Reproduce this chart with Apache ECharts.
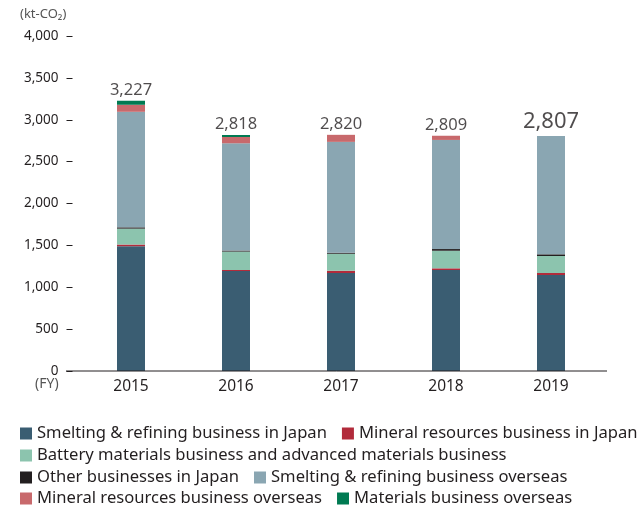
<!DOCTYPE html>
<html><head><meta charset="utf-8">
<script src="https://cdn.jsdelivr.net/npm/echarts@6/dist/echarts.min.js"></script>
<style>html,body{margin:0;padding:0;background:#fff}#c{width:640px;height:509px}</style>
</head><body><div id="c"></div>
<script>
const years = ['2015','2016','2017','2018','2019'];
const totals = [3227, 2818, 2820, 2809, 2807];
const seriesNames = [
  'Smelting & refining business in Japan',
  'Mineral resources business in Japan',
  'Battery materials business and advanced materials business',
  'Other businesses in Japan',
  'Smelting & refining business overseas',
  'Mineral resources business overseas',
  'Materials business overseas'
];
const smeltingJapan   = [1490, 1194, 1170, 1206, 1146];
const mineralJapan    = [20, 12, 27, 20, 24];
const battery         = [190, 220, 203, 210, 203];
const otherJapan      = [15, 12, 12, 20, 20];
const smeltingOverseas= [1380, 1281, 1324, 1303, 1414];
const mineralOverseas = [84, 75, 84, 50, 0];
const materialsOverseas=[48, 24, 0, 0, 0];
const yTicks = [0, 500, 1000, 1500, 2000, 2500, 3000, 3500, 4000];

const seriesData = [smeltingJapan, mineralJapan, battery, otherJapan, smeltingOverseas, mineralOverseas, materialsOverseas];
const colors = ['#3a5d72', '#b22b3b', '#8cc4ae', '#231f20', '#8aa6b2', '#c8696c', '#007a52'];
const FONT = 'Noto Sans';

const chart = echarts.init(document.getElementById('c'), null, {renderer: 'canvas'});
const series = seriesData.map((d, i) => ({
  name: seriesNames[i], type: 'bar', stack: 'total', data: d,
  barWidth: 28, itemStyle: {color: colors[i]}
}));
series.push({
  name: 'Total', type: 'scatter', symbolSize: 0, silent: true,
  data: totals.map((v, i) => i === 4
    ? {value: v, label: {fontSize: 22, distance: 3}}
    : {value: v}),
  label: {
    show: true, position: 'top', distance: 2, color: '#231f20', fontFamily: FONT,
    formatter: p => p.value.toLocaleString('en-US'),
    fontSize: 16.5
  }
});

const legendCommon = {
  icon: 'rect', itemWidth: 12, itemHeight: 12, itemGap: 15, width: 1200,
  orient: 'horizontal',
  textStyle: {fontFamily: FONT, fontSize: 16.6, color: '#231f20'},
  selectedMode: false, padding: 0
};
chart.setOption({
  animation: false,
  color: colors,
  grid: {left: 78.5, right: 36.5, top: 36, bottom: 138},
  xAxis: {
    type: 'category', data: years,
    axisLine: {show: false}, axisTick: {show: false},
    axisLabel: {color: '#231f20', fontFamily: FONT, fontSize: 15.5, margin: 8}
  },
  yAxis: {
    type: 'value', min: 0, max: 4000, interval: 500, offset: 6,
    splitLine: {show: false},
    axisLine: {show: false},
    axisTick: {show: true, length: 6, lineStyle: {color: '#231f20'}},
    axisLabel: {color: '#231f20', fontFamily: FONT, fontSize: 13.5, margin: 14,
      formatter: v => yTicks.includes(v) ? v.toLocaleString('en-US') : ''}
  },
  graphic: [
    {type: 'line', shape: {x1: 66, y1: 371, x2: 607, y2: 371}, style: {stroke: '#231f20', lineWidth: 1}, z: 10},
    {type: 'text', left: 20, top: 8, style: {text: '(kt-CO₂)', fill: '#555', font: '13px "Noto Sans"'}},
    {type: 'text', left: 35, top: 377, style: {text: '(FY)', fill: '#555', font: '14px "Noto Sans"'}}
  ],
  legend: [
    Object.assign({left: 20, top: 425, data: seriesNames.slice(0, 2)}, legendCommon),
    Object.assign({left: 20, top: 447, data: seriesNames.slice(2, 3)}, legendCommon),
    Object.assign({left: 20, top: 469, data: seriesNames.slice(3, 5)}, legendCommon),
    Object.assign({left: 20, top: 490, data: seriesNames.slice(5, 7)}, legendCommon)
  ],
  series: series
});
</script></body></html>
